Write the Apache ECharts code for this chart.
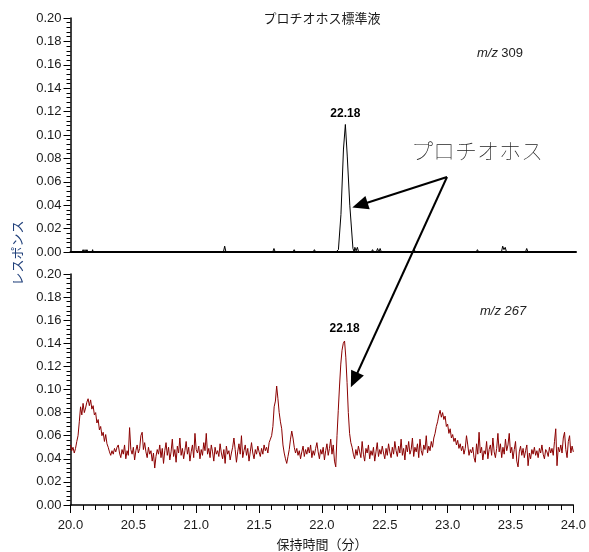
<!DOCTYPE html>
<html>
<head>
<meta charset="utf-8">
<script src="https://cdn.jsdelivr.net/npm/echarts@6/dist/echarts.min.js"></script>
<style>
html,body{margin:0;padding:0;background:#fff;}
#chart{width:589px;height:552px;}
</style>
</head>
<body>
<div id="chart"></div>
<script>
// ---- data ----
const chartTitle = 'プロチオホス標準液';
const xAxisName = '保持時間（分）';
const yAxisName = 'レスポンス';
const compoundLabel = 'プロチオホス';
const peakLabel = '22.18';
const ion1 = '309';
const ion2 = '267';

// m/z 309 trace (sparse: baseline with small spikes and the main peak)
const topTimes = [20.00, 20.09, 20.10, 20.11, 20.115, 20.12, 20.13, 20.14, 20.17, 20.175, 20.18,
  21.21, 21.22, 21.23, 21.60, 21.61, 21.62, 21.76, 21.77, 21.78, 21.92, 21.93, 21.94,
  22.10, 22.12, 22.14, 22.16, 22.175, 22.19, 22.21, 22.235, 22.245, 22.25, 22.26, 22.27, 22.28,
  22.38, 22.39, 22.40, 22.42, 22.43, 22.44, 22.45, 22.46, 22.71, 22.72, 22.73,
  23.21, 23.22, 23.23, 23.41, 23.42, 23.43, 23.44, 23.45, 23.60, 23.61, 23.62, 23.98];
const topValues = [0, 0, 0.002, 0, 0.002, 0, 0.002, 0, 0, 0.002, 0,
  0, 0.005, 0, 0, 0.003, 0, 0, 0.002, 0, 0, 0.002, 0,
  0, 0.002, 0.032, 0.088, 0.109, 0.082, 0.040, 0.003, 0, 0.004, 0.001, 0.004, 0,
  0, 0.002, 0, 0, 0.003, 0, 0.003, 0, 0, 0.002, 0,
  0, 0.002, 0, 0, 0.005, 0.002, 0.004, 0, 0, 0.003, 0, 0];

// m/z 267 trace, sampled every 0.01 min from 20.00 to 24.00
const bottomStart = 20.0;
const bottomStep = 0.01;
const bottomValues = [
  0.052, 0.047, 0.050, 0.045, 0.049, 0.055, 0.060, 0.072, 0.085, 0.078,
  0.088, 0.080, 0.084, 0.089, 0.092, 0.086, 0.091, 0.083, 0.086, 0.078,
  0.080, 0.071, 0.074, 0.065, 0.068, 0.060, 0.063, 0.055, 0.061, 0.053,
  0.050, 0.046, 0.043, 0.047, 0.044, 0.049, 0.046, 0.050, 0.052, 0.045,
  0.041, 0.048, 0.044, 0.052, 0.040, 0.047, 0.043, 0.067, 0.048, 0.044,
  0.050, 0.039, 0.047, 0.052, 0.045, 0.049, 0.060, 0.063, 0.048, 0.054,
  0.046, 0.041, 0.050, 0.044, 0.047, 0.038, 0.045, 0.032, 0.042, 0.048,
  0.044, 0.052, 0.041, 0.049, 0.036, 0.047, 0.054, 0.043, 0.050, 0.039,
  0.046, 0.057, 0.042, 0.048, 0.037, 0.051, 0.045, 0.058, 0.043, 0.049,
  0.040, 0.047, 0.055, 0.044, 0.050, 0.038, 0.046, 0.052, 0.041, 0.062,
  0.048, 0.045, 0.051, 0.040, 0.048, 0.043, 0.054, 0.047, 0.062, 0.044,
  0.049, 0.041, 0.052, 0.046, 0.038, 0.050, 0.044, 0.047, 0.042, 0.053,
  0.045, 0.040, 0.048, 0.036, 0.051, 0.044, 0.047, 0.039, 0.045, 0.050,
  0.058, 0.048, 0.037, 0.046, 0.053, 0.044, 0.060, 0.041, 0.047, 0.052,
  0.043, 0.049, 0.038, 0.046, 0.054, 0.045, 0.040, 0.048, 0.044, 0.051,
  0.046, 0.042, 0.049, 0.044, 0.052, 0.047, 0.050, 0.045, 0.054, 0.057,
  0.060, 0.068, 0.085, 0.090, 0.103, 0.092, 0.080, 0.072, 0.066, 0.052,
  0.045, 0.040, 0.036, 0.042, 0.048, 0.057, 0.064, 0.058, 0.050, 0.045,
  0.049, 0.043, 0.047, 0.040, 0.046, 0.051, 0.042, 0.048, 0.044, 0.050,
  0.045, 0.052, 0.041, 0.047, 0.043, 0.049, 0.054, 0.046, 0.040, 0.048,
  0.044, 0.050, 0.039, 0.047, 0.053, 0.043, 0.049, 0.057, 0.044, 0.052,
  0.038, 0.033, 0.060, 0.082, 0.103, 0.122, 0.134, 0.140, 0.142, 0.128,
  0.106, 0.080, 0.062, 0.054, 0.050, 0.044, 0.040, 0.048, 0.043, 0.051,
  0.046, 0.041, 0.055, 0.044, 0.038, 0.049, 0.045, 0.052, 0.040, 0.047,
  0.043, 0.050, 0.038, 0.046, 0.054, 0.042, 0.048, 0.044, 0.051, 0.045,
  0.040, 0.049, 0.043, 0.053, 0.046, 0.041, 0.050, 0.044, 0.055, 0.047,
  0.042, 0.051, 0.045, 0.057, 0.043, 0.049, 0.039, 0.052, 0.046, 0.055,
  0.044, 0.048, 0.058, 0.042, 0.050, 0.046, 0.053, 0.041, 0.057, 0.047,
  0.043, 0.052, 0.048, 0.060, 0.045, 0.051, 0.047, 0.055, 0.050, 0.058,
  0.062, 0.068, 0.072, 0.078, 0.082, 0.076, 0.080, 0.074, 0.077, 0.068,
  0.070, 0.062, 0.066, 0.058, 0.061, 0.055, 0.058, 0.052, 0.056, 0.049,
  0.053, 0.047, 0.051, 0.044, 0.049, 0.060, 0.052, 0.043, 0.048, 0.045,
  0.050, 0.041, 0.037, 0.053, 0.044, 0.063, 0.045, 0.050, 0.039, 0.047,
  0.044, 0.055, 0.040, 0.048, 0.052, 0.043, 0.058, 0.046, 0.041, 0.049,
  0.062, 0.046, 0.053, 0.041, 0.050, 0.044, 0.057, 0.047, 0.052, 0.062,
  0.045, 0.050, 0.040, 0.048, 0.055, 0.038, 0.033, 0.046, 0.051, 0.043,
  0.049, 0.041, 0.047, 0.052, 0.034, 0.045, 0.040, 0.048, 0.044, 0.050,
  0.043, 0.047, 0.041, 0.049, 0.045, 0.052, 0.044, 0.040, 0.048, 0.046,
  0.042, 0.050, 0.045, 0.049, 0.043, 0.055, 0.066, 0.034, 0.050, 0.046,
  0.052, 0.045, 0.058, 0.063, 0.048, 0.041, 0.055, 0.060, 0.045, 0.051,
  0.046
];

// ---- build ----
const topData = topTimes.map((t, i) => [t, topValues[i]]);
const bottomData = bottomValues.map((v, i) => [+(bottomStart + i * bottomStep).toFixed(2), v]);

const chart = echarts.init(document.getElementById('chart'), null, {renderer: 'canvas'});
const tickFont = 'Liberation Sans, Arial, sans-serif';
const jpFont = '"Noto Sans CJK JP", sans-serif';

function yAxisCfg(idx) {
  return {
    type: 'value', gridIndex: idx, min: 0, max: 0.2, interval: 0.02,
    axisLine: {show: true, lineStyle: {color: '#000', width: 1.5}},
    axisTick: {show: true, length: 7, lineStyle: {color: '#000', width: 1}},
    minorTick: {show: true, splitNumber: 5, length: 4, lineStyle: {color: '#000', width: 1}},
    splitLine: {show: false},
    axisLabel: {formatter: v => v.toFixed(2), fontFamily: tickFont, fontSize: 13, color: '#1a1a1a', margin: 9}
  };
}

const option = {
  animation: false,
  backgroundColor: '#fff',
  grid: [
    {left: 70.5, right: 13, top: 18, height: 234},
    {left: 70.5, right: 13, top: 274, height: 233}
  ],
  xAxis: [
    {type: 'value', gridIndex: 0, min: 20, max: 24, interval: 0.5,
     axisLine: {show: true, onZero: false, lineStyle: {color: '#000', width: 2}},
     axisTick: {show: false}, axisLabel: {show: false}, splitLine: {show: false}},
    {type: 'value', gridIndex: 1, min: 20, max: 24, interval: 0.5,
     axisLine: {show: true, onZero: false, lineStyle: {color: '#000', width: 1.5}},
     axisTick: {show: true, length: 8, lineStyle: {color: '#000', width: 1}},
     minorTick: {show: true, splitNumber: 5, length: 5, lineStyle: {color: '#000', width: 1}},
     splitLine: {show: false},
     axisLabel: {formatter: v => v.toFixed(1), fontFamily: tickFont, fontSize: 13, color: '#1a1a1a', margin: 14},
     name: xAxisName, nameLocation: 'middle', nameGap: 33,
     nameTextStyle: {fontFamily: jpFont, fontSize: 13, color: '#1a1a1a'}}
  ],
  yAxis: [yAxisCfg(0), yAxisCfg(1)],
  series: [
    {type: 'line', xAxisIndex: 0, yAxisIndex: 0, data: topData, symbol: 'none',
     lineStyle: {color: '#000', width: 1}, z: 3},
    {type: 'line', xAxisIndex: 1, yAxisIndex: 1, data: bottomData, symbol: 'none',
     lineStyle: {color: '#8b0000', width: 1}, z: 3}
  ],
  graphic: []
};

chart.setOption(option);

// annotations positioned from data coordinates
function px(gridIdx, x, y) {
  return chart.convertToPixel({xAxisIndex: gridIdx, yAxisIndex: gridIdx}, [x, y]);
}
function arrow(from, tip, len, half) {
  const dx = tip[0] - from[0], dy = tip[1] - from[1];
  const L = Math.hypot(dx, dy), ux = dx / L, uy = dy / L;
  const bx = tip[0] - ux * len, by = tip[1] - uy * len;
  const nx = -uy * half, ny = ux * half;
  return [
    {type: 'line', shape: {x1: from[0], y1: from[1], x2: bx + ux * 2, y2: by + uy * 2},
     style: {stroke: '#000', lineWidth: 2}, z: 10},
    {type: 'polygon', shape: {points: [[tip[0], tip[1]], [bx + nx, by + ny], [bx - nx, by - ny]]},
     style: {fill: '#000'}, z: 10}
  ];
}

const p1 = px(0, 22.175, 0.109);
const p2 = px(1, 22.18, 0.142);
const tip1 = px(0, 22.23, 0.038);
const tip2 = px(1, 22.23, 0.102);
const origin = [447, 177];

const g = [
  {type: 'text', x: 322, y: 12, style: {text: chartTitle, font: '13px ' + jpFont, fill: '#1a1a1a', align: 'center'}, z: 10},
  {type: 'text', x: 477, y: 47, style: {rich: {i: {fontStyle: 'italic', fontFamily: tickFont, fontSize: 13, fill: '#222'}, n: {fontFamily: tickFont, fontSize: 13, fill: '#222'}}, text: '{i|m/z} {n|' + ion1 + '}'}, z: 10},
  {type: 'text', x: 480, y: 305, style: {text: 'm/z ' + ion2, font: 'italic 13px ' + tickFont, fill: '#222'}, z: 10},
  {type: 'text', x: p1[0], y: p1[1] - 17, style: {text: peakLabel, font: 'bold 12px ' + tickFont, fill: '#000', align: 'center', textVerticalAlign: 'top'}, z: 10},
  {type: 'text', x: p2[0], y: p2[1] - 18, style: {text: peakLabel, font: 'bold 12px ' + tickFont, fill: '#000', align: 'center', textVerticalAlign: 'top'}, z: 10},
  {type: 'text', x: 411, y: 140, style: {text: compoundLabel, font: 'lighter 22px ' + jpFont, fill: '#222'}, z: 10},
  {type: 'text', x: 17, y: 253, rotation: Math.PI / 2, style: {text: yAxisName, font: '13px ' + jpFont, fill: '#1f3f7a', align: 'center', verticalAlign: 'middle'}, z: 10}
].concat(arrow(origin, tip1, 16, 7)).concat(arrow(origin, tip2, 16, 7));

chart.setOption({graphic: g});
</script>
</body>
</html>
